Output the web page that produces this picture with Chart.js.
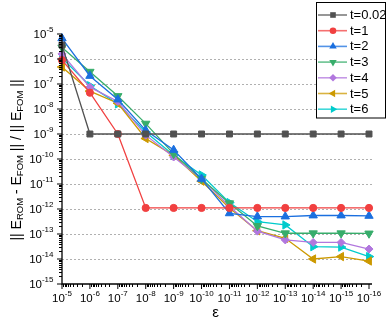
<!DOCTYPE html>
<html><head><meta charset="utf-8">
<script src="https://cdn.jsdelivr.net/npm/chart.js@4/dist/chart.umd.min.js"></script>
<style>html,body{margin:0;padding:0;background:#fff;overflow:hidden}canvas{display:block}</style>
</head><body>
<canvas id="c" width="386" height="327"></canvas>
<script>
// ---- data ----
const epsilon = [1e-5,1e-6,1e-7,1e-8,1e-9,1e-10,1e-11,1e-12,1e-13,1e-14,1e-15,1e-16];
const seriesLabels = ['t=0.02','t=1','t=2','t=3','t=4','t=5','t=6'];
const t002 = [3.6e-6,1e-9,1e-9,1e-9,1e-9,1e-9,1e-9,1e-9,1e-9,1e-9,1e-9,1e-9];
const t1   = [9e-7,4.5e-8,1e-9,1.1e-12,1.1e-12,1.1e-12,1.1e-12,1.1e-12,1.1e-12,1.1e-12,1.1e-12,1.1e-12];
const t2   = [6.7e-6,2.1e-7,2.4e-8,1.4e-9,2.3e-10,1.6e-11,6.7e-13,5e-13,5e-13,5.5e-13,5.5e-13,5.3e-13];
const t3   = [2.9e-6,3.1e-7,3.3e-8,2.6e-9,1.6e-10,1.6e-11,1.7e-12,2.1e-13,1.07e-13,1.07e-13,1.07e-13,1.05e-13];
const t4   = [1.6e-6,7.5e-8,2e-8,9e-10,1.2e-10,1.6e-11,1.3e-12,1.3e-13,5.8e-14,4.6e-14,4.6e-14,2.5e-14];
const t5   = [4.8e-7,5.2e-8,1.7e-8,6.6e-10,1.4e-10,1.3e-11,1.1e-12,1.35e-13,6.7e-14,1e-14,1.25e-14,8.3e-15];
const t6   = [1.1e-6,8.5e-8,1.6e-8,1.2e-9,1.4e-10,2.3e-11,1.8e-12,3.1e-13,2.3e-13,3.1e-14,3e-14,1.25e-14];
const xTickExponents = [-5,-6,-7,-8,-9,-10,-11,-12,-13,-14,-15,-16];
const yTickExponents = [-5,-6,-7,-8,-9,-10,-11,-12,-13,-14,-15];
const xTitle = 'ε';
const yTitleParts = [['|| E',0],['ROM',1],[' - E',0],['FOM',1],[' || / || E',0],['FOM',1],[' ||',0]];

// ---- styles ----
const colors = ['#515151','#F14040','#1A6FDF','#37AD6B','#B177DE','#CC9900','#00CBCC'];
const markers = [
  {style:'rect', rot:0, r:4.2},
  {style:'circle', rot:0, r:3.6},
  {style:'triangle', rot:0, r:4.8},
  {style:'triangle', rot:180, r:4.8},
  {style:'rectRot', rot:0, r:4},
  {style:'triangle', rot:270, r:4.8},
  {style:'triangle', rot:90, r:4.8}
];
const allSeries = [t002,t1,t2,t3,t4,t5,t6];
const FONT = '"Liberation Sans", Arial, sans-serif';

const datasets = allSeries.map((vals,i)=>({
  label: seriesLabels[i],
  data: epsilon.map((e,j)=>({x:e, y:vals[j]})),
  borderColor: colors[i],
  backgroundColor: colors[i],
  borderWidth: 1.3,
  pointStyle: markers[i].style,
  rotation: markers[i].rot,
  pointRadius: markers[i].r,
  pointBorderWidth: 1,
  pointBorderColor: colors[i],
  pointBackgroundColor: colors[i],
  tension: 0,
  clip: false
}));

function drawPow(ctx, exp, x, y, align){
  ctx.font = '11.5px ' + FONT;
  const wb = ctx.measureText('10').width;
  ctx.font = '8px ' + FONT;
  const sup = '-' + Math.abs(exp);
  const ws = ctx.measureText(sup).width;
  const tot = wb + ws;
  let sx = align === 'right' ? x - tot : x - tot/2;
  ctx.textAlign = 'left'; ctx.textBaseline = 'middle'; ctx.fillStyle = '#000';
  ctx.font = '11.5px ' + FONT;
  ctx.fillText('10', sx, y);
  ctx.font = '8px ' + FONT;
  ctx.fillText(sup, sx + wb, y - 4.5);
}

function legendMarker(ctx, i, x, y){
  const m = markers[i];
  ctx.save();
  ctx.fillStyle = colors[i];
  ctx.translate(x,y);
  ctx.rotate(m.rot*Math.PI/180);
  ctx.beginPath();
  if (m.style==='rect'){ ctx.rect(-2.8,-2.8,5.6,5.6); }
  else if (m.style==='circle'){ ctx.arc(0,0,3.3,0,Math.PI*2); }
  else if (m.style==='rectRot'){ ctx.moveTo(0,-3.8);ctx.lineTo(3.8,0);ctx.lineTo(0,3.8);ctx.lineTo(-3.8,0);ctx.closePath(); }
  else { const r=4.3; ctx.moveTo(0,-r); ctx.lineTo(r*0.866,r*0.5); ctx.lineTo(-r*0.866,r*0.5); ctx.closePath(); }
  ctx.fill();
  ctx.restore();
}

const decor = {
  id:'decor',
  beforeDatasetsDraw(chart){
    const {ctx, chartArea:a, scales:{y}} = chart;
    ctx.save();
    ctx.strokeStyle = '#b0b0b0'; ctx.lineWidth = 1; ctx.setLineDash([2,2]);
    yTickExponents.forEach(e=>{
      if (e===-5 || e===-15) return;
      const py = Math.round(y.getPixelForValue(Math.pow(10,e))) + 0.5;
      ctx.beginPath(); ctx.moveTo(a.left, py); ctx.lineTo(a.right+3, py); ctx.stroke();
    });
    ctx.restore();
  },
  afterDatasetsDraw(chart){
    const {ctx, chartArea:a, scales:{x,y}} = chart;
    ctx.save();
    ctx.strokeStyle = '#000'; ctx.lineWidth = 1.3;
    // axes lines
    ctx.beginPath(); ctx.moveTo(a.left, a.top); ctx.lineTo(a.left, a.bottom); ctx.lineTo(a.right+3, a.bottom); ctx.stroke();
    // ticks
    ctx.lineWidth = 1;
    xTickExponents.forEach((e,k)=>{
      const px = x.getPixelForValue(Math.pow(10,e));
      ctx.beginPath(); ctx.moveTo(px, a.bottom); ctx.lineTo(px, a.bottom+5); ctx.stroke();
      if (k < xTickExponents.length-1){
        for (let m=2;m<=9;m++){
          const v = m*Math.pow(10,e-1);
          const pm = Math.round(x.getPixelForValue(v))+0.5;
          ctx.beginPath(); ctx.moveTo(pm, a.bottom); ctx.lineTo(pm, a.bottom+3); ctx.stroke();
        }
      }
      drawPow(ctx, e, px, a.bottom+14.5, 'center');
    });
    yTickExponents.forEach((e,k)=>{
      const py = y.getPixelForValue(Math.pow(10,e));
      ctx.beginPath(); ctx.moveTo(a.left, py); ctx.lineTo(a.left-5, py); ctx.stroke();
      if (k < yTickExponents.length-1){
        for (let m=2;m<=9;m++){
          const v = m*Math.pow(10,e-1);
          const pm = Math.round(y.getPixelForValue(v))+0.5;
          ctx.beginPath(); ctx.moveTo(a.left, pm); ctx.lineTo(a.left-3, pm); ctx.stroke();
        }
      }
      drawPow(ctx, e, a.left-8.5, py+0.5, 'right');
    });
    // x title
    ctx.fillStyle = '#000'; ctx.textAlign='center'; ctx.textBaseline='middle';
    ctx.font = '15px ' + FONT;
    ctx.fillText(xTitle, (a.left+a.right)/2, 313);
    // y title
    const mainF = '14px ' + FONT, subF = '9.5px ' + FONT;
    let tot = 0;
    yTitleParts.forEach(([t,s])=>{ ctx.font = s?subF:mainF; tot += ctx.measureText(t).width; });
    ctx.save();
    ctx.translate(17, 160);
    ctx.rotate(-Math.PI/2);
    ctx.textAlign='left'; ctx.textBaseline='middle';
    let cx = -tot/2;
    yTitleParts.forEach(([t,s])=>{
      ctx.font = s?subF:mainF;
      ctx.fillText(t, cx, s?3.5:0);
      cx += ctx.measureText(t).width;
    });
    ctx.restore();
    // legend
    ctx.fillStyle = '#fff';
    ctx.fillRect(316.5, 2.5, 69, 115.5);
    ctx.strokeStyle = '#000'; ctx.lineWidth = 1;
    ctx.strokeRect(316.5, 2.5, 69, 115.5);
    seriesLabels.forEach((lab,i)=>{
      const ly = 15 + i*15.7;
      ctx.save();
      ctx.globalAlpha = 0.75;
      ctx.strokeStyle = colors[i]; ctx.lineWidth = 1.6;
      ctx.beginPath(); ctx.moveTo(318, ly); ctx.lineTo(347, ly); ctx.stroke();
      ctx.restore();
      legendMarker(ctx, i, 333, ly);
      ctx.fillStyle = '#000'; ctx.font = '13px ' + FONT; ctx.textAlign='left'; ctx.textBaseline='middle';
      ctx.fillText(lab, 350, ly+0.5);
    });
    ctx.restore();
  }
};

new Chart(document.getElementById('c'), {
  type: 'line',
  data: { datasets },
  options: {
    responsive: false,
    devicePixelRatio: 1,
    animation: false,
    layout: { padding: { left: 0, right: 17, top: 34, bottom: 0 } },
    plugins: { legend: { display: false }, tooltip: { enabled: false } },
    scales: {
      x: {
        type: 'logarithmic', reverse: true, min: 1e-16, max: 1e-5,
        grid: { display: false }, border: { display: false },
        ticks: { display: false },
        afterFit: s => { s.height = 43; }
      },
      y: {
        type: 'logarithmic', min: 1e-15, max: 1e-5,
        grid: { display: false }, border: { display: false },
        ticks: { display: false },
        afterFit: s => { s.width = 62; }
      }
    }
  },
  plugins: [decor]
});
</script>
</body></html>
